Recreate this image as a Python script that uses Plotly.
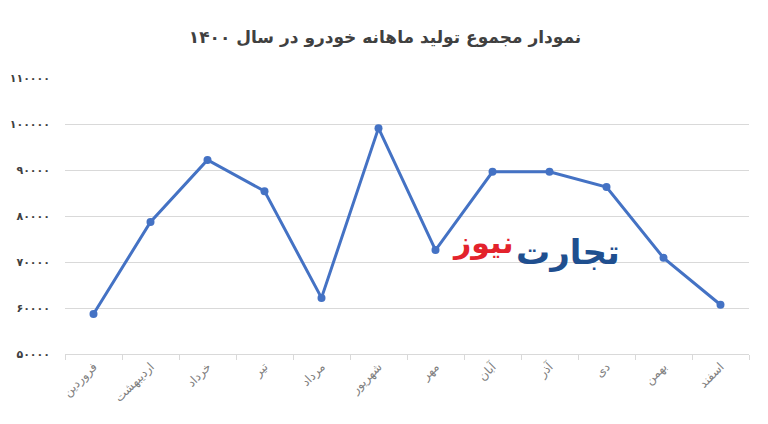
import plotly.graph_objects as go

months = ["فروردین", "اردیبهشت", "خرداد", "تیر", "مرداد", "شهریور",
          "مهر", "آبان", "آذر", "دی", "بهمن", "اسفند"]
production = [58700, 78700, 92200, 85400, 62200, 99100,
              72600, 89600, 89600, 86300, 70900, 60700]
y_ticks = [50000, 60000, 70000, 80000, 90000, 100000, 110000]
y_tick_labels = ["۵۰۰۰۰", "۶۰۰۰۰", "۷۰۰۰۰", "۸۰۰۰۰", "۹۰۰۰۰", "۱۰۰۰۰۰", "۱۱۰۰۰۰"]
title_text = "نمودار مجموع تولید ماهانه خودرو در سال ۱۴۰۰"

OFF = 8  # page body margin offset
W, H = 768 - 2 * OFF, 424 - 2 * OFF
# target plot area in screen pixels: x 65..749, y 78..354
L, T = 65 - OFF, 78 - OFF
R = (OFF + W) - 749
B = (OFF + H) - 354
pw, ph = W - L - R, H - T - B

def px(x):
    return (x - OFF - L) / pw

def py(y):
    return (H - B - (y - OFF)) / ph

fig = go.Figure()
fig.add_trace(go.Scatter(
    x=months, y=production, mode="lines+markers",
    line=dict(color="#4472C4", width=3),
    marker=dict(color="#4472C4", size=8),
    hoverinfo="x+y", showlegend=False,
))

fig.update_layout(
    width=W, height=H,
    margin=dict(l=L, r=R, t=T, b=B, autoexpand=False),
    paper_bgcolor="white", plot_bgcolor="white",
    title=dict(text="<b>" + title_text + "</b>", x=px(385), xanchor="center",
               xref="paper",
               y=1 - (37 - OFF) / H, yanchor="middle",
               font=dict(family="DejaVu Sans", size=17, color="#404040")),
    xaxis=dict(
        type="category", tickangle=-45, automargin=False,
        tickfont=dict(family="DejaVu Sans", size=12, color="#7f7f7f"),
        showline=True, linecolor="#d9d9d9", linewidth=1,
        ticks="outside", tickson="boundaries", ticklen=5, tickcolor="#d9d9d9",
        showgrid=False, range=[-0.5, 11.5],
    ),
    yaxis=dict(
        range=[50000, 110000], tickvals=y_ticks, automargin=False,
        ticktext=["<b>" + t + "</b>" for t in y_tick_labels],
        tickfont=dict(family="DejaVu Sans", size=11, color="#404040"),
        showgrid=True, gridcolor="#d9d9d9", gridwidth=1,
        zeroline=False, showline=False, ticks="", ticklabelstandoff=14,
    ),
    annotations=[
        dict(text="<b>تجارت</b>", xref="paper", yref="paper",
             x=px(514), y=py(252), xanchor="left", showarrow=False,
             font=dict(family="DejaVu Sans", size=34, color="#1f4f8f")),
        dict(text="<b>نیوز</b>", xref="paper", yref="paper",
             x=px(516), y=py(262), xanchor="right", showarrow=False,
             font=dict(family="DejaVu Sans", size=30, color="#e3232c")),
    ],
)

fig.write_html("out.html")
